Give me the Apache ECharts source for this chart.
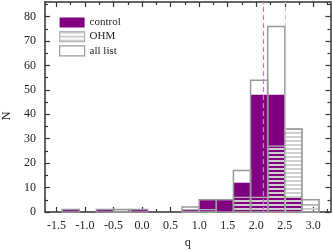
<!DOCTYPE html>
<html>
<head>
<meta charset="utf-8">
<script src="https://cdn.jsdelivr.net/npm/echarts@6/dist/echarts.min.js"></script>
<style>
html,body{margin:0;padding:0;background:#fff;}
#c{width:332px;height:251px;}
</style>
</head>
<body>
<div id="c"></div>
<script>
// ---- data ----
var binWidth = 0.3;
var binStarts = [-1.4, -0.8, -0.5, -0.2, 0.7, 1.0, 1.3, 1.6, 1.9, 2.2, 2.5, 2.8];
var controlCounts = [1, 1, 0, 1, 1, 5, 5, 12, 48, 48, 6, 0];
var ohmCounts = [0, 0, 1, 0, 1, 1, 0, 6, 6, 27, 34, 3];
var allListCounts = [1, 1, 1, 1, 2, 5, 5, 17, 54, 76, 34, 5];
var xMajorTicks = [-1.5, -1.0, -0.5, 0.0, 0.5, 1.0, 1.5, 2.0, 2.5, 3.0];
var xMinorTicks = [-1.25, -0.75, -0.25, 0.25, 0.75, 1.25, 1.75, 2.25, 2.75, 3.25];
var yMajorTicks = [0, 10, 20, 30, 40, 50, 60, 70, 80];
var yMinorTicks = [5, 15, 25, 35, 45, 55, 65, 75, 85];
var refLines = [2.12, 2.5];
var seriesNames = ['control', 'OHM', 'all list'];

// ---- styles ----
var FONT = "'Liberation Serif','DejaVu Serif',serif";
var AX = '#333';
var PURPLE = '#800080';
var ALL_STROKE = '#999999';
var OHM_STROKE = '#b4b4b4';

var pc = document.createElement('canvas');
pc.width = 8; pc.height = 4;
var pctx = pc.getContext('2d');
pctx.fillStyle = '#cfcfcf';
pctx.fillRect(0, 0, 8, 2);
var stripe = { image: pc, repeat: 'repeat' };

function pairs(counts) {
  var out = [];
  for (var i = 0; i < binStarts.length; i++) {
    if (counts[i] > 0) out.push([binStarts[i], counts[i]]);
  }
  return out;
}

function makeRender(style) {
  return function (params, api) {
    var s = api.value(0), v = api.value(1);
    var p0 = api.coord([s, v]);
    var p1 = api.coord([s + binWidth, 0]);
    return {
      type: 'rect',
      shape: { x: p0[0], y: p0[1], width: p1[0] - p0[0], height: p1[1] - p0[1] },
      style: style
    };
  };
}

function xAxisDef(pos, ticks, len, opts) {
  var a = {
    type: 'value', position: pos, min: -1.7, max: 3.3, gridIndex: 0,
    axisLine: { show: !!opts.line, onZero: false, lineStyle: { color: AX, width: 1.5 } },
    axisTick: { show: true, inside: true, length: len, customValues: ticks, lineStyle: { color: AX, width: 1.2 } },
    axisLabel: { show: false },
    splitLine: { show: false }
  };
  if (opts.labels) {
    a.axisLabel = { show: true, customValues: ticks, margin: 8, color: '#222', fontSize: 12, fontFamily: FONT,
      formatter: function (v) { return v.toFixed(1); } };
    a.name = 'q';
    a.nameLocation = 'middle';
    a.nameGap = 24;
    a.nameTextStyle = { color: '#222', fontSize: 12, fontFamily: FONT };
  }
  return a;
}
function yAxisDef(pos, ticks, len, opts) {
  var a = {
    type: 'value', position: pos, min: 0, max: 86, gridIndex: 0,
    axisLine: { show: !!opts.line, onZero: false, lineStyle: { color: AX, width: 1.5 } },
    axisTick: { show: true, inside: true, length: len, customValues: ticks, lineStyle: { color: AX, width: 1.2 } },
    axisLabel: { show: false },
    splitLine: { show: false }
  };
  if (opts.labels) {
    a.axisLabel = { show: true, customValues: ticks, margin: 9, color: '#222', fontSize: 12, fontFamily: FONT };
    a.name = 'N';
    a.nameLocation = 'middle';
    a.nameGap = 30;
    a.nameTextStyle = { color: '#222', fontSize: 12, fontFamily: FONT, padding: [0, 18, 0, 0] };
  }
  return a;
}

var chart = echarts.init(document.getElementById('c'), null, { renderer: 'canvas' });
chart.setOption({
  animation: false,
  backgroundColor: '#fff',
  grid: { left: 45, right: 1.5, top: 2, bottom: 39, containLabel: false, outerBoundsMode: 'none' },
  legend: {
    orient: 'vertical', left: 59, top: 17, padding: 0,
    itemWidth: 25, itemHeight: 10, itemGap: 3,
    textStyle: { color: '#222', fontSize: 11, fontFamily: FONT },
    data: [
      { name: seriesNames[0], icon: 'rect', itemStyle: { color: PURPLE, borderWidth: 0 } },
      { name: seriesNames[1], icon: 'rect', itemStyle: { color: stripe, borderColor: OHM_STROKE, borderWidth: 1.2 } },
      { name: seriesNames[2], icon: 'rect', itemStyle: { color: '#fff', borderColor: ALL_STROKE, borderWidth: 1.2 } }
    ]
  },
  xAxis: [
    xAxisDef('bottom', xMajorTicks, 5, { line: true, labels: true }),
    xAxisDef('bottom', xMinorTicks, 3, {}),
    xAxisDef('top', xMajorTicks, 5, { line: true }),
    xAxisDef('top', xMinorTicks, 3, {})
  ],
  yAxis: [
    yAxisDef('left', yMajorTicks, 5, { line: true, labels: true }),
    yAxisDef('left', yMinorTicks, 3, {}),
    yAxisDef('right', yMajorTicks, 5, { line: true }),
    yAxisDef('right', yMinorTicks, 3, {})
  ],
  series: [
    {
      name: seriesNames[0], type: 'custom', z: 2, silent: true,
      itemStyle: { color: PURPLE },
      renderItem: makeRender({ fill: PURPLE, stroke: null, lineWidth: 0 }),
      data: pairs(controlCounts),
      markLine: {
        silent: true, symbol: ['none', 'none'], label: { show: false }, z: 6,
        data: [
          { xAxis: refLines[0], lineStyle: { color: '#f060f0', type: [5, 3], width: 1.2, opacity: 1 } },
          { xAxis: refLines[1], lineStyle: { color: '#c8c8c8', type: [5, 3], width: 1.2, opacity: 1 } }
        ]
      }
    },
    {
      name: seriesNames[1], type: 'custom', z: 3, silent: true,
      itemStyle: { color: '#cfcfcf' },
      renderItem: makeRender({ fill: stripe, stroke: OHM_STROKE, lineWidth: 1.2 }),
      data: pairs(ohmCounts)
    },
    {
      name: seriesNames[2], type: 'custom', z: 4, silent: true,
      itemStyle: { color: '#fff' },
      renderItem: makeRender({ fill: 'none', stroke: ALL_STROKE, lineWidth: 1.5 }),
      data: pairs(allListCounts)
    }
  ]
});
</script>
</body>
</html>
